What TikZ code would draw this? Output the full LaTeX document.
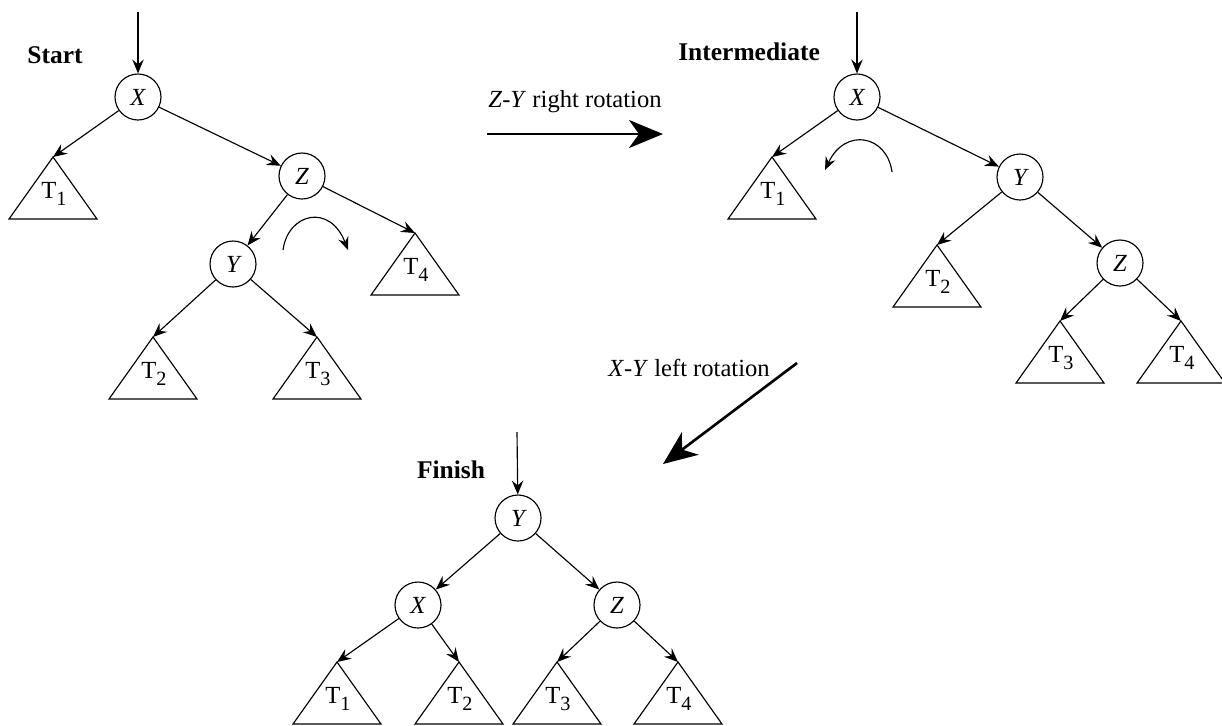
\documentclass[tikz,border=0pt]{standalone}
\usepackage{fontspec}
\setmainfont{Liberation Serif}
\usetikzlibrary{arrows.meta}

\begin{document}
\begin{tikzpicture}[x=0.02cm, y=-0.02cm,
  treenode/.style={circle, draw, line width=0.65pt, minimum size=0.92cm, inner sep=0pt,
    font=\fontsize{14}{16}\selectfont\itshape},
  edge/.style={line width=0.65pt, -{Stealth[length=0.28cm, width=0.23cm, inset=0.1cm]}},
  turn/.style={line width=0.65pt, -{Stealth[length=0.26cm, width=0.21cm, inset=0.09cm]}},
  bigarrow/.style={line width=1.5pt, -{Stealth[length=0.68cm, width=0.56cm, inset=0.2cm]}},
  title/.style={font=\fontsize{14.5}{16}\selectfont\bfseries},
  note/.style={font=\fontsize{14}{16}\selectfont}]
\useasboundingbox (0,0) rectangle (1222,725);

% Subtrees (apex, index)
\foreach \n/\x/\y/\i in {t11/53/157/1, t12/153/337/2, t13/317/337/3, t14/415/233/4,
                         t21/772/157/1, t22/937/245/2, t23/1060/321/3, t24/1181/321/4,
                         t31/337/662/1, t32/459/662/2, t33/557/662/3, t34/678/662/4} {
  \coordinate (\n) at (\x,\y);
  \draw[line width=0.65pt] (\n) -- ++(-44,62) -- ++(88,0) -- cycle;
  \node[note] (\n-lbl) at (\x+1,\y+37) {T\raisebox{-0.55ex}{\fontsize{11.5}{12}\selectfont\i}};
}

% Start
\node[title] (start) at (55,55) {Start};
\coordinate (in1) at (138,12);
\node[treenode] (x1) at (138,97) {X};
\node[treenode] (z1) at (302,176) {Z};
\node[treenode] (y1) at (233,264) {Y};
\draw[edge] (in1) -- (x1);
\draw[edge] (x1) -- (t11);
\draw[edge] (x1) -- (z1);
\draw[edge] (z1) -- (y1);
\draw[edge] (z1) -- (t14);
\draw[edge] (y1) -- (t12);
\draw[edge] (y1) -- (t13);
\draw[turn] (283,250) .. controls (288,213) and (330,203) .. (348,250);

% Z-Y right rotation
\node[note] (zy) at (575,102) {\textit{Z}-\textit{Y} right rotation};
\coordinate (r1a) at (487,134);
\coordinate (r1b) at (663,134);
\draw[bigarrow] (r1a) -- (r1b);

% Intermediate
\node[title, anchor=east] (mid) at (826,52) {Intermediate};
\coordinate (in2) at (857,12);
\node[treenode] (x2) at (857,97) {X};
\node[treenode] (y2) at (1020,177) {Y};
\node[treenode] (z2) at (1120,263) {Z};
\draw[edge] (in2) -- (x2);
\draw[edge] (x2) -- (t21);
\draw[edge] (x2) -- (y2);
\draw[edge] (y2) -- (t22);
\draw[edge] (y2) -- (z2);
\draw[edge] (z2) -- (t23);
\draw[edge] (z2) -- (t24);
\draw[turn] (892,172) .. controls (887,135) and (845,127) .. (825,170);

% X-Y left rotation
\node[note] (xy) at (689,368) {\textit{X}-\textit{Y} left rotation};
\coordinate (r2a) at (797,363);
\coordinate (r2b) at (663,464);
\draw[bigarrow] (r2a) -- (r2b);

% Finish
\node[title] (finish) at (451,470) {Finish};
\coordinate (in3) at (517,432);
\node[treenode] (y3) at (518,518) {Y};
\node[treenode] (x3) at (418,605) {X};
\node[treenode] (z3) at (617,605) {Z};
\draw[edge] (in3) -- (y3);
\draw[edge] (y3) -- (x3);
\draw[edge] (y3) -- (z3);
\draw[edge] (x3) -- (t31);
\draw[edge] (x3) -- (t32);
\draw[edge] (z3) -- (t33);
\draw[edge] (z3) -- (t34);
\end{tikzpicture}
\end{document}
